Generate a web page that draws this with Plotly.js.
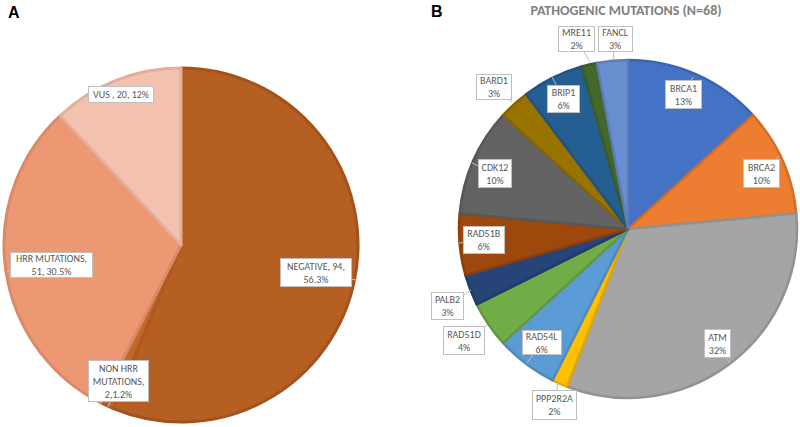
<!DOCTYPE html>
<html>
<head>
<meta charset="utf-8">
<script src="https://cdn.plot.ly/plotly-3.0.1.min.js"></script>
<style>html,body{margin:0;padding:0;background:#fff;}#chart{width:800px;height:427px;}</style>
</head>
<body>
<div id="chart"></div>
<script>
// ---- Data: panel A ----
const catsA = ["NEGATIVE", "NON HRR MUTATIONS", "HRR MUTATIONS", "VUS"];
const valsA = [94, 2, 51, 20];
const labelsA = ["NEGATIVE, 94,<br>56.3%", "NON HRR<br>MUTATIONS,<br>2,1.2%", "HRR MUTATIONS,<br>51, 30.5%", "VUS , 20, 12%"];

// ---- Data: panel B ----
const catsB = ["BRCA1", "BRCA2", "ATM", "PPP2R2A", "RAD54L", "RAD51D", "PALB2", "RAD51B", "CDK12", "BARD1", "BRIP1", "MRE11", "FANCL"];
const valsB = [9, 7, 22, 1, 4, 3, 2, 4, 7, 2, 4, 1, 2];
const pctB = ["13%", "10%", "32%", "2%", "6%", "4%", "3%", "6%", "10%", "3%", "6%", "2%", "3%"];
const titleB = "PATHOGENIC MUTATIONS (N=68)";

// ---- Styles ----
const colorsA = ["#B65F23", "#C4672A", "#EE9873", "#F3C2AF"];
const lineA = ["#A4521B", "#B0591F", "#DA8A67", "#E3AE9A"];
const colorsB = ["#4472C4", "#ED7D31", "#A5A5A5", "#FFC000", "#5B9BD5", "#70AD47", "#264478", "#9E480E", "#636363", "#997300", "#255E91", "#43682B", "#698ED0"];
function darker(hex, f) {
  const n = parseInt(hex.slice(1), 16);
  const r = Math.round(((n >> 16) & 255) * f), g = Math.round(((n >> 8) & 255) * f), b = Math.round((n & 255) * f);
  return "rgb(" + r + "," + g + "," + b + ")";
}
const lineB = colorsB.map(c => darker(c, 0.88));

// label box placement (pixel centres, box sizes, pointer tips) — layout only
const posA = [
  {c: [316, 272.5], s: [72, 29], p: [356, 280]},
  {c: [118.5, 381], s: [61, 42], p: [108, 407]},
  {c: [51.5, 265], s: [83, 26], p: [6, 272]},
  {c: [121, 94.5], s: [66, 17], p: null}
];
const posB = [
  {c: [683.5, 94.5], s: [37, 29], p: [693, 77]},
  {c: [761.5, 173.5], s: [37, 29], p: [779, 156]},
  {c: [717.5, 343.5], s: [27, 29], p: [730, 363]},
  {c: [554.5, 405], s: [45, 30], p: [558, 382]},
  {c: [542, 342.5], s: [40, 25], p: [527, 363]},
  {c: [464, 340.5], s: [42, 29], p: [487, 325]},
  {c: [447.5, 306], s: [33, 28], p: [471, 290]},
  {c: [484, 240], s: [42, 28], p: [459, 243]},
  {c: [495, 173.5], s: [34, 29], p: [472, 163]},
  {c: [494, 87], s: [36, 26], p: [512, 102]},
  {c: [563.5, 99], s: [33, 28], p: [552, 77]},
  {c: [576.5, 39], s: [37, 26], p: [590, 62]},
  {c: [615.5, 39], s: [35, 26], p: [613, 60]}
];

const W = 800, H = 427;
const px = x => x / W, py = y => 1 - y / H;
const labFont = {family: "Carlito, 'Liberation Sans Narrow', Roboto, sans-serif", size: 10, color: "#595959"};

function makeAnn(text, pos) {
  const a = {
    text: text, xref: "paper", yref: "paper", font: labFont,
    bgcolor: "#ffffff", bordercolor: "#BFBFBF", borderwidth: 1, borderpad: 0,
    width: pos.s[0] - 2, height: pos.s[1] - 2, align: "center", valign: "middle"
  };
  if (pos.p) {
    a.x = px(pos.p[0]); a.y = py(pos.p[1]);
    a.showarrow = true; a.arrowhead = 0; a.arrowwidth = 1; a.arrowcolor = "#BFBFBF";
    a.standoff = 0; a.ax = pos.c[0] - pos.p[0]; a.ay = pos.c[1] - pos.p[1];
  } else {
    a.x = px(pos.c[0]); a.y = py(pos.c[1]); a.showarrow = false;
    a.xanchor = "center"; a.yanchor = "middle";
  }
  return a;
}

const annotations = [];
labelsA.forEach((t, i) => annotations.push(makeAnn(t, posA[i])));
catsB.forEach((c, i) => annotations.push(makeAnn(c + "<br>" + pctB[i], posB[i])));
annotations.push({text: "<b>A</b>", xref: "paper", yref: "paper", x: px(14), y: py(12), showarrow: false,
  xanchor: "center", yanchor: "middle", font: {family: "Liberation Sans, Arial, sans-serif", size: 16, color: "#000"}});
annotations.push({text: "<b>B</b>", xref: "paper", yref: "paper", x: px(437), y: py(11), showarrow: false,
  xanchor: "center", yanchor: "middle", font: {family: "Liberation Sans, Arial, sans-serif", size: 16, color: "#000"}});

const traceA = {
  type: "pie", labels: catsA, values: valsA, sort: false, direction: "clockwise", rotation: 0,
  textinfo: "none", hoverinfo: "skip",
  marker: {colors: colorsA, line: {color: lineA, width: 3}},
  domain: {x: [px(4), px(358)], y: [py(422), py(68)]}
};
const traceB = {
  type: "pie", labels: catsB, values: valsB, sort: false, direction: "clockwise", rotation: 0,
  textinfo: "none", hoverinfo: "skip",
  marker: {colors: colorsB, line: {color: lineB, width: 2.5}},
  domain: {x: [px(459), px(797)], y: [py(398), py(60)]}
};

const layout = {
  width: W, height: H, margin: {l: 0, r: 0, t: 0, b: 0},
  paper_bgcolor: "#ffffff", plot_bgcolor: "#ffffff", showlegend: false,
  title: {text: "<b>" + titleB + "</b>", x: px(626), y: py(10.5), xanchor: "center", yanchor: "middle",
    font: {family: "Carlito, 'Open Sans', sans-serif", size: 14, color: "#808080"}},
  annotations: annotations
};

Plotly.newPlot("chart", [traceA, traceB], layout, {staticPlot: true, displayModeBar: false});
</script>
</body>
</html>
